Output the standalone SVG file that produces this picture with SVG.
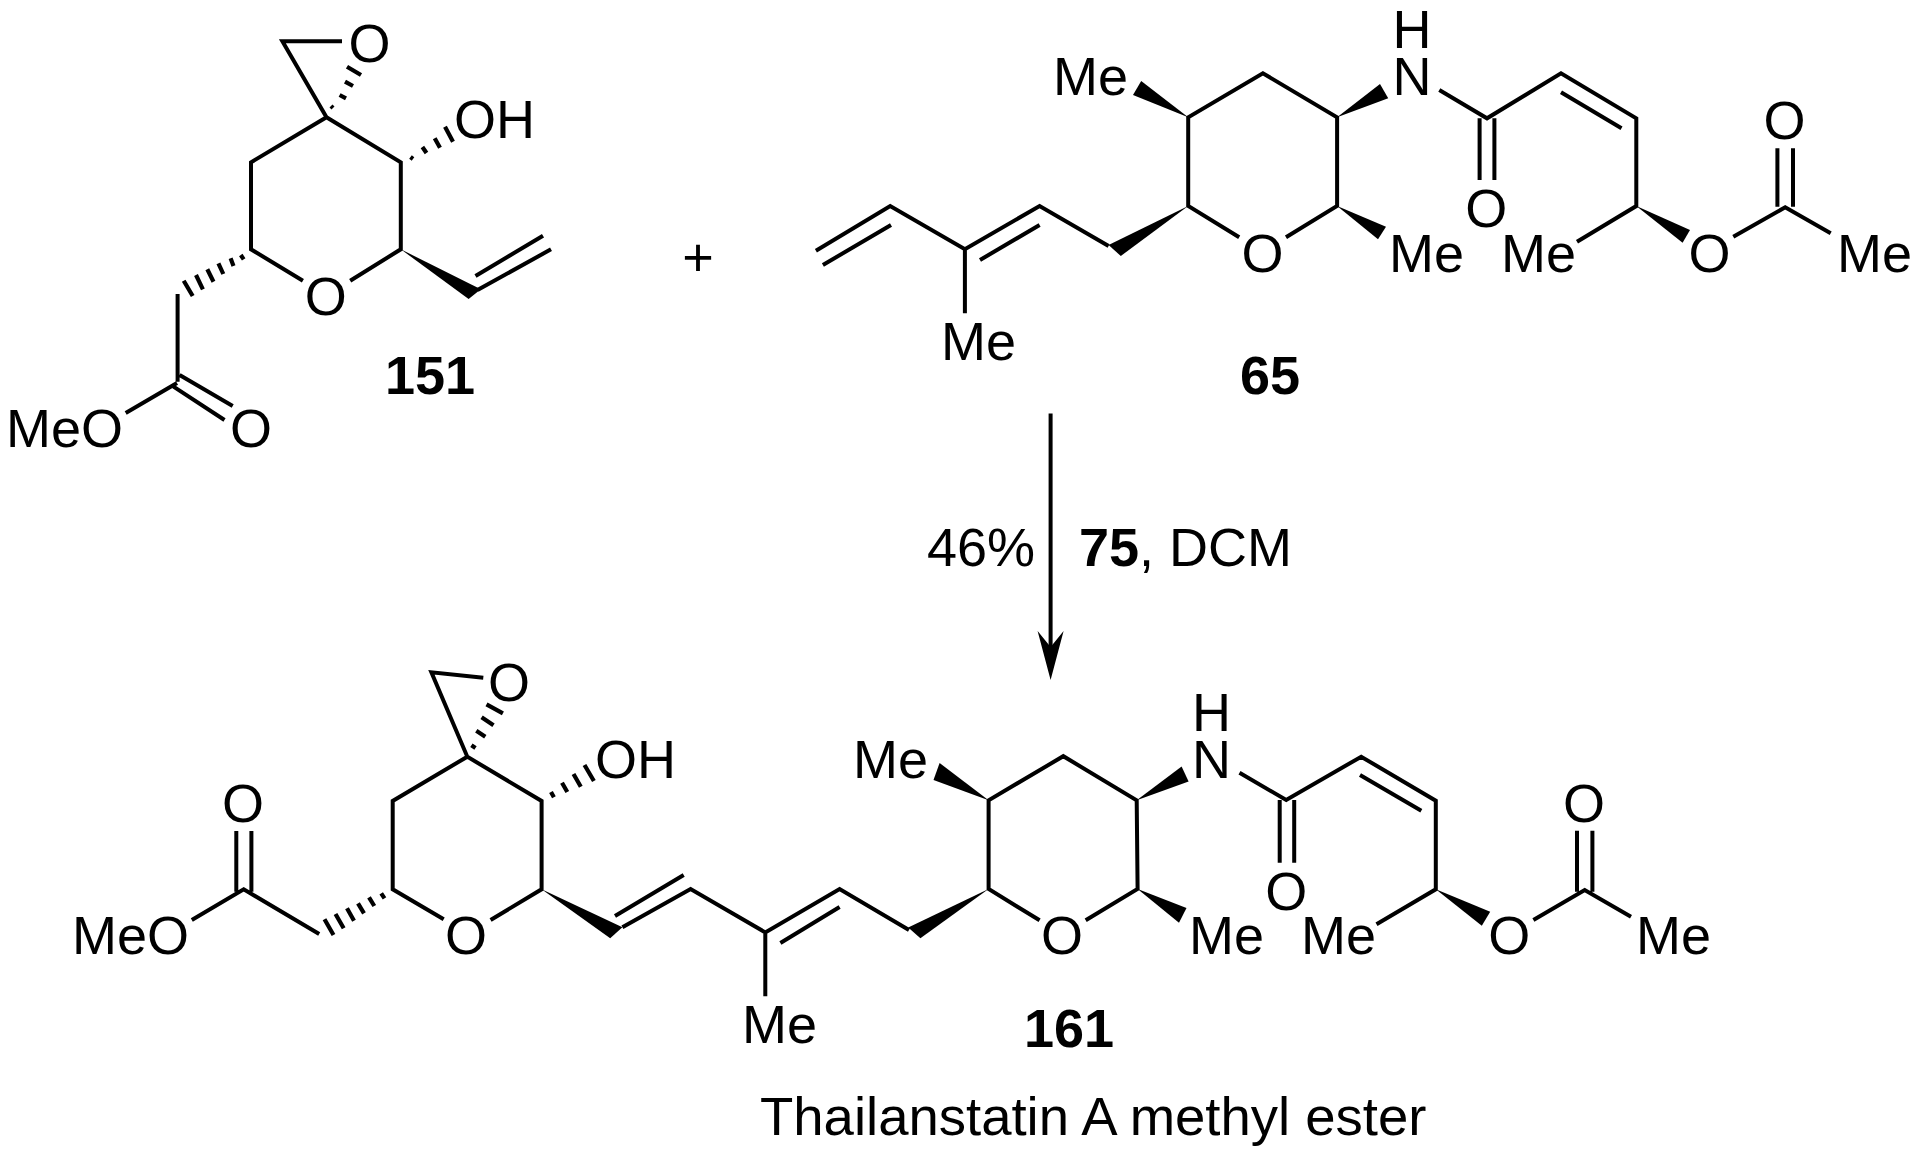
<svg xmlns="http://www.w3.org/2000/svg" width="1920" height="1159" viewBox="0 0 1920 1159">
<style>
text{font-family:"Liberation Sans",Arial,sans-serif;font-size:54px;fill:#000}
.c{text-anchor:middle}
.b{font-weight:700}
path.bond{fill:none;stroke:#000;stroke-width:4;stroke-linejoin:miter;stroke-linecap:butt}
path.hash{fill:none;stroke:#000;stroke-width:4.2;stroke-linecap:butt}
polygon{fill:#000}
</style>
<defs>
<marker id="head" markerUnits="userSpaceOnUse" markerWidth="50" markerHeight="26" refX="16" refY="13" orient="auto" overflow="visible"><path d="M0 0L49 13L0 26L16 13Z" fill="#000"/></marker>
</defs>
<rect width="1920" height="1159" fill="#fff"/>

<g id="compound-151">
<path class="bond" d="M342 41.3H282.4L326.5 117.3L400.8 162.3V249.3L350.2 280.7M302.9 280.7L251 249.3V162.3L326.5 117.3"/>
<path class="bond" d="M177.6 294V381.7M177 383L125.7 413M179.6 375L232.7 406M173.5 386.7L224.5 420"/>
<path class="bond" d="M477.5 290L551 249.3M475.5 276L543 235.7"/>
<path class="hash" d="M331 106L333 108M339.6 95L346 98.3M345 81.7L353 86M347 66.7L361 75"/>
<path class="hash" d="M410.5 157L413 159M422.4 147L426.5 153M434.7 138.3L440 147.7M445 126.7L453 141.7"/>
<path class="hash" d="M240.8 255L243.7 259.3M230.6 258.3L233.5 266M218.4 263.3L223.3 274M207.3 269.3L213.5 281.7M196 275L202.9 289.3M183.7 280.7L192.7 296"/>
<polygon points="400.8,249.3 480.8,289.3 468.6,299"/>
<text class="c" x="369.4" y="62">O</text>
<text x="454" y="138">OH</text>
<text class="c" x="325.7" y="315">O</text>
<text x="6" y="447">MeO</text>
<text class="c" x="251" y="447">O</text>
<text class="c b" x="430" y="394">151</text>
</g>

<g id="plus"><text class="c" x="698" y="276">+</text></g>

<g id="compound-65">
<path class="bond" d="M815.9 250.7L890.2 206L964.9 249.3L1039.6 206L1108.6 246M822.9 265L891 225M980 260L1039.6 225M964.9 249.3V313.3"/>
<path class="bond" d="M1239.2 237.3L1188.2 206V117.3L1262.9 73.3L1337.1 117.3V206L1286 237.3"/>
<path class="bond" d="M1439.3 90L1487 118.3L1561 73.3L1636.3 118.3V206L1577 241.7M1561 92.3L1621.5 128.3M1479.6 118.3V180M1494.4 118.3V180"/>
<path class="bond" d="M1733.3 236.7L1785.2 207.3L1830.7 233.3M1777.4 148.3V206.7M1793 148.3V206.7"/>
<polygon points="1188.2,206 1108.6,245 1120.8,256"/>
<polygon points="1188.2,117.3 1141.2,81 1133,95"/>
<polygon points="1337.1,117.3 1380,84 1388.2,98.3"/>
<polygon points="1337.1,206 1386,226.7 1378,239.3"/>
<polygon points="1636.3,206 1690,230 1682.6,242.7"/>
<text x="941" y="360">Me</text>
<text class="c" x="1262.4" y="272">O</text>
<text x="1053" y="95">Me</text>
<text class="c" x="1412" y="48">H</text>
<text class="c" x="1412" y="95">N</text>
<text x="1389" y="272">Me</text>
<text class="c" x="1486.3" y="227">O</text>
<text x="1501" y="272">Me</text>
<text class="c" x="1709.6" y="272">O</text>
<text x="1837" y="272">Me</text>
<text class="c" x="1784.4" y="139">O</text>
<text class="c b" x="1270" y="394">65</text>
</g>

<g id="connectors">
<path class="bond" d="M1050.6 413.5V647" marker-end="url(#head)"/>
</g>

<g id="conditions">
<text x="927" y="566">46%</text>
<text x="1079" y="566"><tspan class="b">75</tspan>, DCM</text>
</g>

<g id="compound-161">
<path class="bond" d="M483.3 677.7L431.4 672.3L467.3 756.7L541.6 801V889.3L490.6 920M443.7 919.3L392.7 889.3V801L467.3 756.7"/>
<path class="bond" d="M319.2 934L243.7 889.3L191.8 920M236.3 831V891.7M251.4 831V891.7"/>
<path class="bond" d="M622.4 927.3L690.6 889L765.3 932.4L839.6 889L909 930M615 916L683.7 875M780.4 943L839.6 907M765.3 932.4V996.3"/>
<path class="bond" d="M1039.6 920.3L988.6 889V800.3L1063.3 756.2L1136.7 800.3L1137.6 889L1085.7 920.3"/>
<path class="bond" d="M1239.5 772.7L1286.2 800L1361.2 756.7L1435.8 800.7V889.3L1376.5 924.3M1360 775L1421.3 810.7M1279.7 800V862.7M1294.2 800V862.7"/>
<path class="bond" d="M1533.4 920L1584.7 890L1631 916.7M1577 830.7V891.7M1592.4 830.7V891.7"/>
<path class="hash" d="M471.4 745.3L475.5 748M476.3 730.7L485.3 736.7M481.6 717.3L493.5 725.3M486.5 704.3L502.9 713.3"/>
<path class="hash" d="M551 792L553.9 797.3M562 782.7L567.3 792M573.5 774L580.8 786.7M584.5 765L593.9 781"/>
<path class="hash" d="M381.2 893.3L384.5 898.3M369 897.3L374.3 906M358 903.3L364 913.3M347 908.3L354 920.7M335.5 914L343.7 928.3M324.5 919.3L333.5 935"/>
<polygon points="541.6,889.3 622.4,927.3 610.2,938.3"/>
<polygon points="988.6,889 908.2,927.6 920.4,938.2"/>
<polygon points="988.6,800.3 939.6,763 933.5,780"/>
<polygon points="1136.7,800.3 1181.6,766.4 1188.6,781.4"/>
<polygon points="1137.6,889 1186.5,908 1179,922.7"/>
<polygon points="1435.8,889.3 1490.2,911.7 1481.8,925.7"/>
<text class="c" x="509" y="701">O</text>
<text x="595" y="778">OH</text>
<text class="c" x="466" y="954">O</text>
<text class="c" x="242.9" y="822">O</text>
<text x="72" y="954">MeO</text>
<text x="742" y="1043">Me</text>
<text class="c" x="1062" y="954">O</text>
<text x="853" y="778">Me</text>
<text class="c" x="1211.5" y="731">H</text>
<text class="c" x="1211.5" y="778">N</text>
<text x="1189" y="954">Me</text>
<text class="c" x="1286.2" y="910">O</text>
<text x="1301" y="954">Me</text>
<text class="c" x="1509.3" y="954">O</text>
<text x="1636" y="954">Me</text>
<text class="c" x="1584" y="822">O</text>
<text class="c b" x="1069" y="1047">161</text>
<text x="760" y="1135" style="font-size:54.5px">Thailanstatin A methyl ester</text>
</g>
</svg>
